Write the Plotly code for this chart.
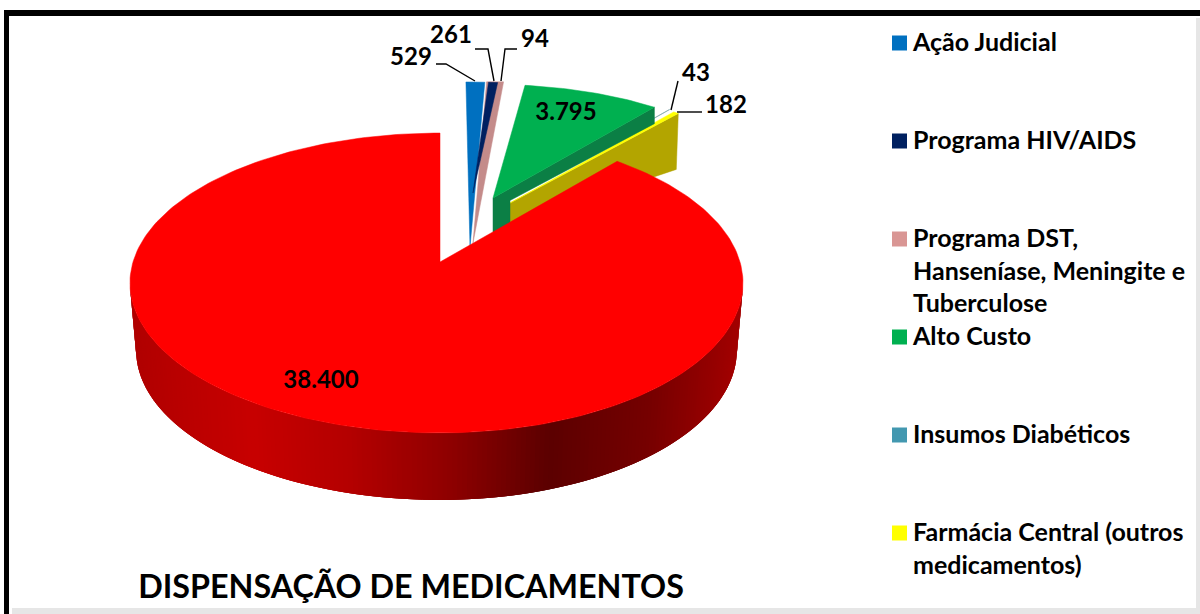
import numpy as np
import plotly.graph_objects as go

# ---------- data ----------
categorias = ["Ação Judicial", "Programa HIV/AIDS", "Programa DST, Hanseníase, Meningite e Tuberculose",
              "Alto Custo", "Insumos Diabéticos", "Farmácia Central (outros medicamentos)", "Outros"]
valores = [529, 261, 94, 3795, 43, 182, 38400]
rotulos = ["529", "261", "94", "3.795", "43", "182", "38.400"]
legenda_linhas = [["Ação Judicial"], ["Programa HIV/AIDS"],
                  ["Programa DST,", "Hanseníase, Meningite e", "Tuberculose"],
                  ["Alto Custo"], ["Insumos Diabéticos"],
                  ["Farmácia Central (outros", "medicamentos)"]]
titulo = "DISPENSAÇÃO DE MEDICAMENTOS"

# ---------- style / geometry ----------
cores = ["#0070C0", "#002060", "#C48B8A", "#00B050", "#6E9A9E", "#FFFF00", "#FF0000"]
cores_legenda = ["#0070C0", "#002060", "#D99694", "#00B050", "#4398B0", "#FFFF00"]
FONT = "Lato, Carlito, Calibri, sans-serif"
K, RY = 0.14, 147.0          # perspective of the pie disc
RX_L, RX_R = 307.0, 300.0
DEPTH = 67.0
COR_PAREDE_VERDE, COR_PAREDE_AMARELA = "#0B7F45", "#B3A500"
LINHA_AMARELA = 2.5          # visible thickness of the thin yellow top

# apex x, apex y, x-scale, y-scale, rotation(deg) for each pulled-out slice
explosao = {0: (470, 247, .93, 1.28, -.93), 2: (473, 243, 4.9, 1.25, -5.99), 1: (473, 193, .99, .86, -1.13),
            3: (493, 198, .95, .88, 0), 4: (507, 201, .95, .89, 0), 5: (510, 203, .95, .89, 0),
            6: (440, 262, 1, 1, 0)}


def proj(theta_deg, ax, ay, sx, sy, rot):
    t = np.radians(np.asarray(theta_deg, float) + rot)
    u, v = np.sin(t), np.cos(t)
    w = 1 / (1 + K * v)
    rx = np.where(u >= 0, RX_R, RX_L)
    return ax + rx * sx * u * w, ay - RY * sy * v * w


total = sum(valores)
limites = np.concatenate([[0], np.cumsum(valores)]) / total * 360

fig = go.Figure()


def poly(x, y, cor, lw=0.5):
    fig.add_trace(go.Scatter(x=list(x), y=list(y), mode="lines", fill="toself", fillcolor=cor,
                             line=dict(color=cor, width=lw), hoverinfo="skip", showlegend=False))


def fatia(i):
    ax, ay, sx, sy, rot = explosao[i]
    th = np.linspace(limites[i], limites[i + 1], 30)
    x, y = proj(th, ax, ay, sx, sy, rot)
    poly(np.r_[ax, x, ax], np.r_[ay, y, ay], cores[i])


# insulin slice, then the yellow slice with its wall
fatia(4)
ax5, ay5, sx5, sy5, rot5 = explosao[5]
ex5, ey5 = (float(v) for v in proj(limites[6], ax5, ay5, sx5, sy5, rot5))
poly([ax5, ex5, ex5 - 2, ax5, ax5], [ay5, ey5, ey5 + 56, ay5 + 22, ay5], COR_PAREDE_AMARELA)
fatia(5)

# green wall stops just above the yellow slice's lower edge
ax3, ay3, sx3, sy3, rot3 = explosao[3]
ex3, ey3 = (float(v) for v in proj(limites[4], ax3, ay3, sx3, sy3, rot3))
borda = ay5 + (ex3 - ax5) * (ey5 - ay5) / (ex5 - ax5) - LINHA_AMARELA
poly([ax3, ex3, ex3, ax5, ax5, ax3, ax3],
     [ay3, ey3, borda, ay5 - LINHA_AMARELA, ay3 + 34, ay3 + 34, ay3], COR_PAREDE_VERDE)

# remaining pulled-out slices, back to front
for i in [3, 2, 0, 1]:
    fatia(i)

# main slice: wall with a horizontal shading (strips overlap so no seams show)
ax, ay, sx, sy, rot = explosao[6]
cx_s = [130, 250, 350, 450, 550, 650, 745]
r_s = [176, 200, 180, 143, 92, 118, 165]
th = np.linspace(98, 262, 200)
x, y = proj(th, ax, ay, sx, sy, rot)
xm = 437 + (x - 437) * 0.98
ym = y + DEPTH
for j in range(len(th) - 3):
    r = int(np.interp((x[j] + x[j + 1]) / 2, cx_s, r_s))
    k = j + 3
    poly([x[j], x[k], xm[k], xm[j], x[j]], [y[j], y[k], ym[k], ym[j], y[j]], f"rgb({r},0,0)", lw=0)

# main slice: top
th = np.linspace(limites[6], limites[7], 240)
x, y = proj(th, ax, ay, sx, sy, rot)
poly(np.r_[ax, x, ax], np.r_[ay, y, ay], cores[6])

# leader lines
lideres = [([436, 446, 475], [64, 64, 81]), ([475, 488, 494], [49, 49, 81]), ([517, 505, 501], [49, 49, 81]),
           ([678, 671], [81, 110]), ([702, 677], [112, 112])]
for lx, ly in lideres:
    fig.add_trace(go.Scatter(x=lx, y=ly, mode="lines", line=dict(color="#000000", width=1.4),
                             hoverinfo="skip", showlegend=False))

# data labels
rot_x = [411, 451, 535, 566, 696, 726, 321]
rot_y = [59, 37, 41, 114, 75, 107, 382]
fig.add_trace(go.Scatter(x=rot_x, y=rot_y, mode="text", text=[f"<b>{t}</b>" for t in rotulos],
                         textposition="middle center", textfont=dict(family=FONT, size=24, color="#000000"),
                         hoverinfo="skip", showlegend=False))

# legend
LEG_Y0, LEG_STEP, LINE = 43, 98, 32.6
leg_y = [LEG_Y0 + LEG_STEP * i for i in range(len(legenda_linhas))]
fig.add_trace(go.Scatter(x=[899.5] * len(leg_y), y=leg_y, mode="markers",
                         marker=dict(symbol="square", size=15, color=cores_legenda, line=dict(width=0)),
                         hoverinfo="skip", showlegend=False))
tx, ty, tt = [], [], []
for yy, linhas in zip(leg_y, legenda_linhas):
    for n, l in enumerate(linhas):
        tx.append(913); ty.append(yy + n * LINE + 2); tt.append(f"<b>{l}</b>")
fig.add_trace(go.Scatter(x=tx, y=ty, mode="text", text=tt, textposition="middle right",
                         textfont=dict(family=FONT, size=25, color="#000000"),
                         hoverinfo="skip", showlegend=False))

# title
fig.add_trace(go.Scatter(x=[411], y=[590], mode="text", text=[f"<b>{titulo}</b>"], textposition="middle center",
                         textfont=dict(family=FONT, size=32.3, color="#000000"), hoverinfo="skip", showlegend=False))

fig.update_layout(
    width=1200, height=614, margin=dict(l=0, r=0, t=0, b=0), paper_bgcolor="#FFFFFF", plot_bgcolor="#FFFFFF",
    xaxis=dict(range=[0, 1200], visible=False, fixedrange=True),
    yaxis=dict(range=[614, 0], visible=False, fixedrange=True),
    shapes=[
        dict(type="rect", xref="x", yref="y", x0=4, x1=1200, y0=10, y1=16, fillcolor="#000000", line_width=0, layer="below"),
        dict(type="rect", xref="x", yref="y", x0=4, x1=9, y0=10, y1=614, fillcolor="#000000", line_width=0, layer="below"),
        dict(type="rect", xref="x", yref="y", x0=12, x1=1200, y0=608, y1=614, fillcolor="#E6E6E6", line_width=0, layer="below"),
        dict(type="rect", xref="x", yref="y", x0=1196, x1=1200, y0=18, y1=614, fillcolor="#E6E6E6", line_width=0, layer="below"),
    ],
)
fig.write_html("out.html", config={"displayModeBar": False},
               post_script="document.body.style.margin='0';document.documentElement.style.overflow='hidden';")
